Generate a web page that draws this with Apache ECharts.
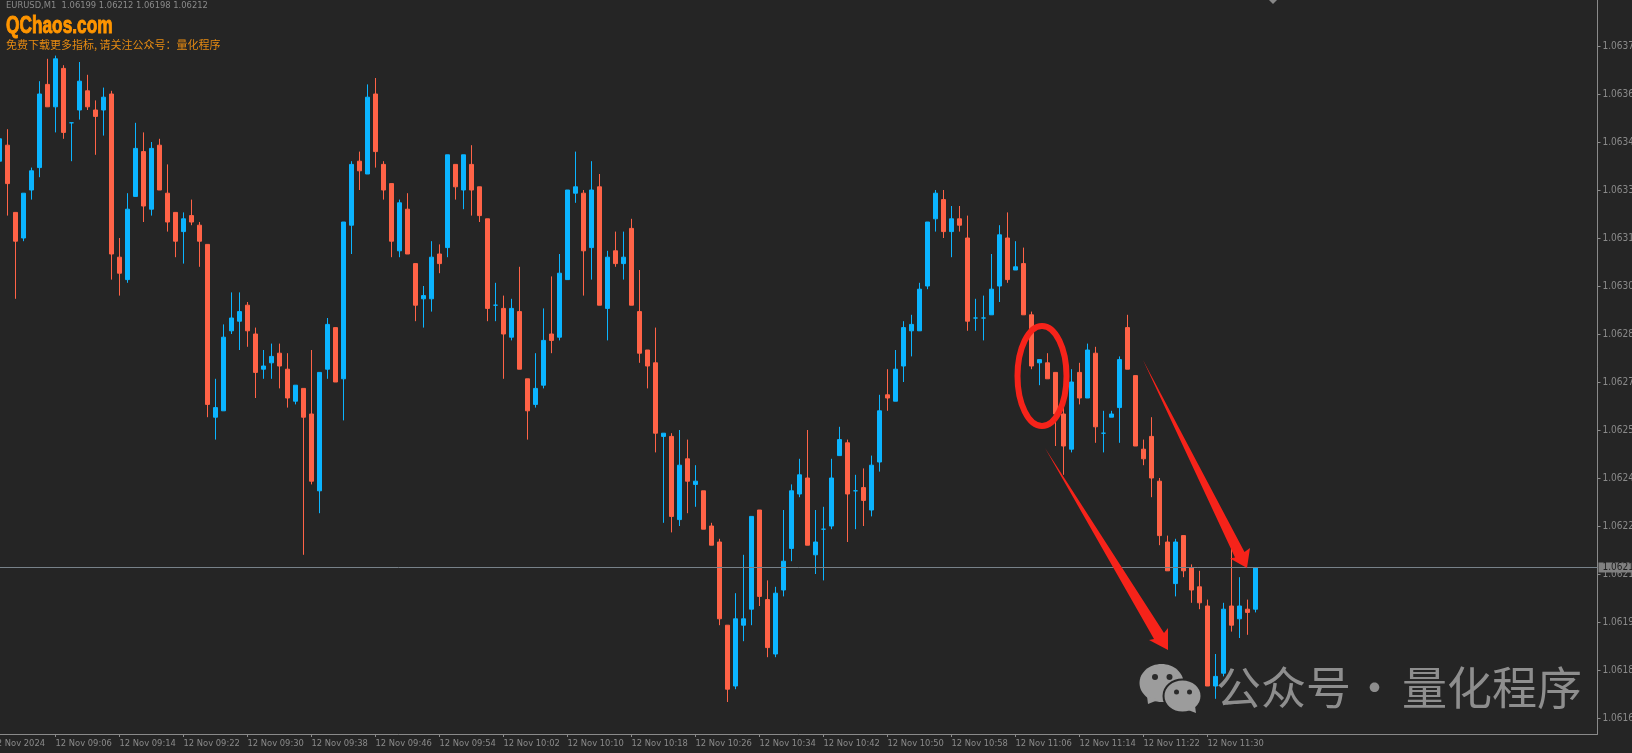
<!DOCTYPE html>
<html>
<head>
<meta charset="utf-8">
<title>EURUSD,M1</title>
<style>
	html, body { margin: 0; padding: 0; background: #252525; overflow: hidden; }
	#chart { width: 1632px; height: 753px; }
</style>
<script src="https://cdn.jsdelivr.net/npm/echarts@6/dist/echarts.min.js"></script>
</head>
<body>
<div id="chart"></div>
<script>
// one bar per minute, first bar is 08:59
var opens = [1.06339,
	1.06344,1.06323,1.06315,1.06330,1.06337,1.06363,1.06356,1.06368,1.06351,1.06355,
	1.06361,1.06355,1.06355,1.06360,1.06309,1.06302,1.06328,1.06342,1.06324,1.06344,
	1.06329,1.06323,1.06317,1.06322,1.06319,1.06313,1.06259,1.06261,1.06286,1.06289,
	1.06294,1.06285,1.06274,1.06276,1.06279,1.06274,1.06264,1.06268,1.06260,1.06236,
	1.06274,1.06287,1.06271,1.06319,1.06339,1.06335,1.06360,1.06338,1.06332,1.06311,
	1.06324,1.06307,1.06296,1.06296,1.06310,1.06312,1.06338,1.06330,1.06338,1.06331,
	1.06321,1.06294,1.06293,1.06284,1.06292,1.06271,1.06263,1.06269,1.06285,1.06284,
	1.06302,1.06329,1.06329,1.06312,1.06331,1.06293,1.06311,1.06307,1.06318,1.06292,
	1.06280,1.06276,1.06253,1.06253,1.06227,1.06246,1.06238,1.06236,1.06225,1.06220,
	1.06194,1.06175,1.06194,1.06199,1.06230,1.06202,1.06185,1.06205,1.06218,1.06235,
	1.06240,1.06216,1.06224,1.06225,1.06247,1.06251,1.06236,1.06237,1.06230,1.06245,
	1.06266,1.06264,1.06275,1.06286,1.06286,1.06300,1.06321,1.06327,1.06317,1.06321,
	1.06315,1.06290,1.06290,1.06291,1.06300,1.06315,1.06305,1.06307,1.06291,1.06276,
	1.06276,1.06273,1.06260,1.06249,1.06273,1.06265,1.06279,1.06254,1.06259,1.06262,
	1.06287,1.06272,1.06249,1.06253,1.06239,1.06220,1.06207,1.06222,1.06212,1.06206,
	1.06200,1.06175,1.06179,1.06200,1.06196,1.06199,1.06199];
var closes = [1.06346,
	1.06332,1.06314,1.06329,1.06336,1.06360,1.06356,1.06371,1.06348,1.06351,1.06364,
	1.06356,1.06353,1.06359,1.06310,1.06304,1.06324,1.06343,1.06325,1.06343,1.06330,
	1.06320,1.06314,1.06321,1.06320,1.06314,1.06263,1.06262,1.06284,1.06290,1.06292,
	1.06286,1.06273,1.06275,1.06278,1.06275,1.06265,1.06269,1.06259,1.06239,1.06273,
	1.06288,1.06270,1.06320,1.06338,1.06336,1.06359,1.06342,1.06330,1.06314,1.06326,
	1.06310,1.06294,1.06297,1.06309,1.06307,1.06341,1.06331,1.06341,1.06330,1.06322,
	1.06293,1.06294,1.06285,1.06293,1.06274,1.06261,1.06268,1.06283,1.06283,1.06304,
	1.06330,1.06331,1.06311,1.06330,1.06294,1.06309,1.06307,1.06309,1.06294,1.06279,
	1.06275,1.06254,1.06254,1.06228,1.06244,1.06239,1.06239,1.06224,1.06219,1.06196,
	1.06174,1.06196,1.06196,1.06228,1.06203,1.06187,1.06204,1.06214,1.06236,1.06241,
	1.06219,1.06220,1.06224,1.06240,1.06252,1.06235,1.06236,1.06233,1.06244,1.06261,
	1.06265,1.06274,1.06287,1.06288,1.06299,1.06320,1.06329,1.06317,1.06321,1.06319,
	1.06289,1.06290,1.06290,1.06299,1.06316,1.06302,1.06306,1.06291,1.06275,1.06277,
	1.06271,1.06260,1.06250,1.06270,1.06265,1.06280,1.06256,1.06254,1.06260,1.06277,
	1.06274,1.06250,1.06246,1.06240,1.06222,1.06211,1.06220,1.06211,1.06205,1.06201,
	1.06175,1.06178,1.06199,1.06194,1.06200,1.06198,1.06212];
var lows = [1.06336,
	1.06322,1.06296,1.06314,1.06327,1.06334,1.06356,1.06348,1.06346,1.06339,1.06352,
	1.06355,1.06341,1.06347,1.06302,1.06297,1.06301,1.06328,1.06320,1.06322,1.06330,
	1.06317,1.06309,1.06307,1.06319,1.06306,1.06259,1.06252,1.06261,1.06285,1.06280,
	1.06281,1.06265,1.06271,1.06271,1.06268,1.06262,1.06263,1.06216,1.06238,1.06229,
	1.06271,1.06270,1.06258,1.06310,1.06330,1.06335,1.06337,1.06327,1.06309,1.06309,
	1.06310,1.06289,1.06287,1.06292,1.06304,1.06309,1.06327,1.06324,1.06322,1.06320,
	1.06289,1.06289,1.06271,1.06283,1.06274,1.06252,1.06262,1.06268,1.06279,1.06283,
	1.06302,1.06326,1.06297,1.06302,1.06294,1.06283,1.06306,1.06302,1.06294,1.06276,
	1.06268,1.06248,1.06226,1.06223,1.06225,1.06229,1.06231,1.06224,1.06219,1.06194,
	1.06170,1.06174,1.06189,1.06194,1.06200,1.06184,1.06184,1.06203,1.06214,1.06234,
	1.06219,1.06210,1.06208,1.06224,1.06247,1.06220,1.06224,1.06225,1.06228,1.06242,
	1.06261,1.06264,1.06270,1.06278,1.06286,1.06299,1.06317,1.06315,1.06309,1.06317,
	1.06286,1.06286,1.06283,1.06291,1.06295,1.06301,1.06305,1.06291,1.06274,1.06269,
	1.06271,1.06250,1.06241,1.06248,1.06263,1.06265,1.06251,1.06248,1.06259,1.06251,
	1.06274,1.06250,1.06244,1.06234,1.06219,1.06211,1.06203,1.06209,1.06201,1.06199,
	1.06175,1.06171,1.06178,1.06192,1.06190,1.06191,1.06198];
var highs = [1.06349,
	1.06349,1.06323,1.06329,1.06337,1.06364,1.06371,1.06372,1.06369,1.06351,1.06370,
	1.06366,1.06358,1.06362,1.06361,1.06315,1.06329,1.06351,1.06348,1.06345,1.06346,
	1.06338,1.06323,1.06323,1.06327,1.06320,1.06313,1.06271,1.06288,1.06298,1.06298,
	1.06295,1.06287,1.06280,1.06282,1.06282,1.06279,1.06269,1.06268,1.06280,1.06273,
	1.06290,1.06287,1.06320,1.06339,1.06342,1.06363,1.06365,1.06339,1.06332,1.06327,
	1.06329,1.06307,1.06300,1.06314,1.06313,1.06341,1.06338,1.06341,1.06344,1.06331,
	1.06321,1.06301,1.06297,1.06296,1.06306,1.06271,1.06279,1.06293,1.06303,1.06310,
	1.06330,1.06342,1.06330,1.06339,1.06335,1.06311,1.06317,1.06317,1.06321,1.06305,
	1.06280,1.06287,1.06254,1.06254,1.06255,1.06252,1.06244,1.06236,1.06226,1.06221,
	1.06194,1.06204,1.06216,1.06228,1.06230,1.06208,1.06206,1.06230,1.06238,1.06246,
	1.06255,1.06230,1.06231,1.06246,1.06256,1.06252,1.06241,1.06243,1.06247,1.06266,
	1.06274,1.06280,1.06289,1.06291,1.06301,1.06320,1.06330,1.06330,1.06325,1.06325,
	1.06322,1.06296,1.06297,1.06310,1.06319,1.06323,1.06314,1.06312,1.06292,1.06277,
	1.06279,1.06273,1.06262,1.06274,1.06276,1.06282,1.06281,1.06261,1.06261,1.06278,
	1.06291,1.06272,1.06252,1.06259,1.06240,1.06222,1.06221,1.06222,1.06213,1.06211,
	1.06202,1.06185,1.06201,1.06219,1.06209,1.06202,1.06212];

var bidPrice = 1.06212;
var headerText = 'EURUSD,M1  1.06199 1.06212 1.06198 1.06212';

var priceTicks = [1.06375,1.06360,1.06345,1.06330,1.06315,1.06300,1.06285,1.06270,1.06255,1.06240,1.06225,1.06210,1.06195,1.06180,1.06165];
// time ticks, every 8 bars, counted from the 08:58 tick
var timeTicks = [0,8,16,24,32,40,48,56,64,72,80,88,96,104,112,120,128,136,144,152];
var timeLabels = ['12 Nov 2024','12 Nov 09:06','12 Nov 09:14','12 Nov 09:22','12 Nov 09:30','12 Nov 09:38','12 Nov 09:46','12 Nov 09:54',
	'12 Nov 10:02','12 Nov 10:10','12 Nov 10:18','12 Nov 10:26','12 Nov 10:34','12 Nov 10:42','12 Nov 10:50','12 Nov 10:58',
	'12 Nov 11:06','12 Nov 11:14','12 Nov 11:22','12 Nov 11:30'];

var upColor = '#0BB4FF';
var downColor = '#FF6347';
var markColor = '#F6231A';
var axisColor = '#8A8A8A';
var uiFont = '"DejaVu Sans Condensed", "DejaVu Sans", sans-serif';
var cjkFont = '"Noto Sans CJK SC", sans-serif';
var xMax = 200.75;

var candles = [];
for(var i = 0; i < opens.length; i ++) {
	candles.push([i + 1, opens[i], closes[i], lows[i], highs[i]]);
}

var chart = echarts.init(document.getElementById('chart'), null, {renderer: 'canvas'});

var option = {
	backgroundColor: '#252525',
	animation: false,
	grid: { left: -8.5, top: 0, width: 1606, height: 734, outerBoundsMode: 'none', containLabel: false },
	xAxis: {
		type: 'value',
		min: 0,
		max: xMax,
		splitLine: { show: false },
		axisLine: { show: true, onZero: false, lineStyle: { color: axisColor, width: 1 } },
		axisTick: { show: true, length: 3, customValues: timeTicks, lineStyle: { color: axisColor } },
		axisLabel: {
			customValues: timeTicks,
			align: 'left',
			margin: 5.5,
			color: axisColor,
			hideOverlap: false,
			fontFamily: uiFont,
			fontSize: 9.3,
			formatter: function(value) {
				return timeLabels[timeTicks.indexOf(value)];
			}
		}
	},
	yAxis: {
		type: 'value',
		position: 'right',
		min: 1.0616,
		max: 1.06389375,
		splitLine: { show: false },
		axisLine: { show: true, onZero: false, lineStyle: { color: axisColor, width: 1 } },
		axisTick: { show: true, length: 3, customValues: priceTicks, lineStyle: { color: axisColor } },
		axisLabel: {
			customValues: priceTicks,
			margin: 5,
			padding: [2, 0, 0, 0],
			color: axisColor,
			hideOverlap: false,
			fontFamily: uiFont,
			fontSize: 10,
			formatter: function(value) {
				return value.toFixed(5);
			}
		}
	},
	series: [{
		type: 'candlestick',
		barWidth: 4,
		data: candles,
		itemStyle: {
			color: upColor,
			color0: downColor,
			borderColor: upColor,
			borderColor0: downColor,
			borderColorDoji: upColor,
			borderWidth: 1
		},
		markLine: {
			silent: true,
			symbol: 'none',
			animation: false,
			lineStyle: { color: '#78828A', type: 'solid', width: 1 },
			label: {
				show: true,
				position: 'end',
				distance: 1,
				formatter: bidPrice.toFixed(5),
				color: '#1E1E1E',
				backgroundColor: '#808080',
				fontFamily: uiFont,
				fontSize: 10,
				padding: [0, 4, 0, 4],
				lineHeight: 10
			},
			data: [[{ coord: [0, bidPrice] }, { coord: [xMax, bidPrice] }]]
		}
	}],
	graphic: [
		{ type: 'text', silent: true, left: 6, top: 1, style: { text: headerText, fill: axisColor, font: '9.3px ' + uiFont } },
		{ type: 'text', silent: true, x: 6, y: 14, scaleX: 0.72, style: { text: 'QChaos.com', fill: '#FF9500', stroke: '#FF9500', lineWidth: 1, font: 'bold 24px "Liberation Sans", sans-serif' } },
		{ type: 'text', silent: true, left: 6, top: 39, style: { text: '免费下载更多指标, 请关注公众号：量化程序', fill: '#E58A12', font: '11px ' + cjkFont } },
		{ type: 'polygon', silent: true, z: 100, shape: { points: [[1269,0],[1277,0],[1273,4]] }, style: { fill: '#888888' } },
		// hand drawn marks on top of the candles
		{ type: 'ellipse', silent: true, z: 100, shape: { cx: 1042, cy: 376, rx: 24.5, ry: 50 }, style: { fill: 'none', stroke: markColor, lineWidth: 6 } },
		{ type: 'polygon', silent: true, z: 100, shape: { points: [[1045,448],[1164,633],[1168,628],[1168,650],[1149,640],[1154,639]] }, style: { fill: markColor } },
		{ type: 'polygon', silent: true, z: 100, shape: { points: [[1143,360],[1244.5,552],[1250,548],[1247,568],[1230,558.5],[1235,557.5]] }, style: { fill: markColor } },
		// watermark
		{ type: 'ellipse', silent: true, z: 101, shape: { cx: 1161.5, cy: 683, rx: 22, ry: 19 }, style: { fill: '#9C9C9C' } },
		{ type: 'polygon', silent: true, z: 101, shape: { points: [[1147,696],[1148,704],[1158,700]] }, style: { fill: '#9C9C9C' } },
		{ type: 'ellipse', silent: true, z: 102, shape: { cx: 1182.5, cy: 696, rx: 19, ry: 16.5 }, style: { fill: '#9C9C9C', stroke: '#252525', lineWidth: 2 } },
		{ type: 'polygon', silent: true, z: 102, shape: { points: [[1188,710],[1196,713],[1195,706]] }, style: { fill: '#9C9C9C' } },
		{ type: 'circle', silent: true, z: 103, shape: { cx: 1155, cy: 677, r: 3 }, style: { fill: '#2A2A2A' } },
		{ type: 'circle', silent: true, z: 103, shape: { cx: 1169.5, cy: 677, r: 3 }, style: { fill: '#2A2A2A' } },
		{ type: 'circle', silent: true, z: 103, shape: { cx: 1176.5, cy: 692, r: 2.5 }, style: { fill: '#2A2A2A' } },
		{ type: 'circle', silent: true, z: 103, shape: { cx: 1189.5, cy: 692, r: 2.5 }, style: { fill: '#2A2A2A' } },
		{ type: 'text', silent: true, z: 101, left: 1216, top: 665, style: { text: '公众号', fill: '#8E8E8E', font: '45px ' + cjkFont } },
		{ type: 'text', silent: true, z: 101, left: 1352, top: 665, style: { text: '·', fill: '#8E8E8E', font: '45px ' + cjkFont } },
		{ type: 'text', silent: true, z: 101, left: 1402, top: 665, style: { text: '量化程序', fill: '#8E8E8E', font: '45px ' + cjkFont } }
	]
};

chart.setOption(option);
</script>
</body>
</html>
